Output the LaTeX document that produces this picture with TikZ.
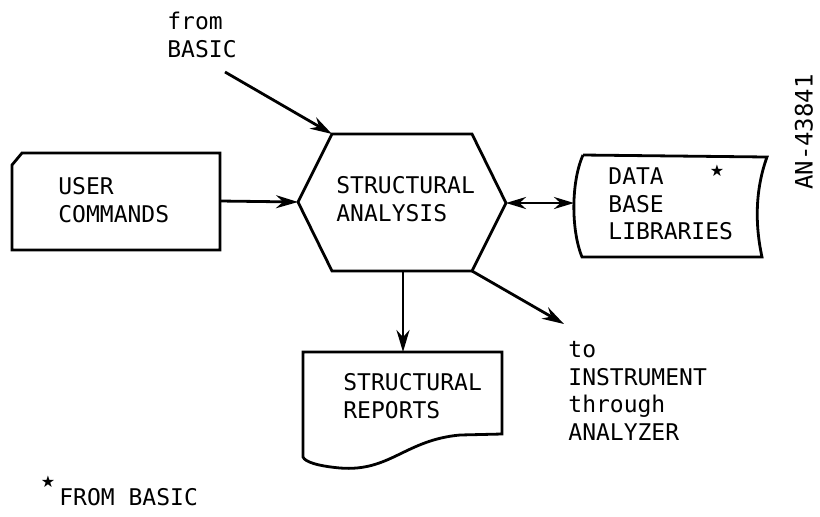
\documentclass[tikz,border=0pt]{standalone}
\usepackage{fontspec}
\newfontfamily\monofont{DejaVu Sans Mono}
\newfontfamily\symfont{DejaVu Sans}
\usetikzlibrary{arrows.meta}

\begin{document}
\begin{tikzpicture}[x=0.5pt,y=-0.5pt,line width=1.4pt,
    lbl/.style={anchor=west,align=left,inner sep=0pt,
      font=\monofont\fontsize{11.5}{13.7}\selectfont},
    flow/.style={-{Stealth[length=11pt,width=6.5pt]}},
    both/.style={{Stealth[length=10pt,width=6pt]}-{Stealth[length=10pt,width=6pt]}}]
  \useasboundingbox (0,0) rectangle (820,516);

  \draw (22,153) --(220,153) --(220,250) --(12,250) --(12,165) --cycle;
  \draw (298,202) --(332,134) --(472,134) --(506,203) --(472,271) --(332,271) --cycle;
  \draw (583,155) --(767,157) .. controls (755,190) and (755,225) .. (762,257)
    --(582,257) .. controls (571,230) and (571,182) .. (583,155);
  \draw (303,352) --(502,352) --(502,434) --(460,435)
    .. controls (405,440) and (390,472) .. (340,468)
    .. controls (318,466) and (305,462) .. (303,457) --cycle;

  \coordinate (ucr) at (220,201);
  \coordinate (hl) at (298,202);
  \coordinate (htl) at (332,134);
  \coordinate (hr) at (506,203);
  \coordinate (hbr) at (472,271);
  \coordinate (hb) at (403,271);
  \coordinate (dbl) at (574,203);
  \coordinate (rt) at (403,352);
  \coordinate (bt) at (225,72);
  \coordinate (it) at (564,324);

  \path (57,200) node[lbl] (ucmd) {USER\\COMMANDS};
  \path (335,199) node[lbl] (sa) {STRUCTURAL\\ANALYSIS};
  \path (607,204) node[lbl] (dbase) {DATA\\BASE\\LIBRARIES};
  \path (717,171) node[inner sep=0pt,font=\symfont\fontsize{8}{8}\selectfont] (dstar) {★};
  \path (342,396) node[lbl] (srep) {STRUCTURAL\\REPORTS};
  \path (166,35) node[lbl] (fbasic) {from\\BASIC};
  \path (567,391) node[lbl] (tinst) {to\\INSTRUMENT\\through\\ANALYZER};
  \path (48,482) node[inner sep=0pt,font=\symfont\fontsize{8}{8}\selectfont] (nstar) {★};
  \path (58,497) node[lbl] (nbasic) {FROM BASIC};
  \path (804,132) node[lbl,anchor=center,rotate=90,font=\monofont\fontsize{12}{14}\selectfont] (anum) {AN-43841};

  \draw[flow] (ucr) --(hl);
  \draw[flow] (bt) --(htl);
  \draw[both] (hr) --(dbl);
  \draw[flow] (hb) --(rt);
  \draw[flow] (hbr) --(it);
\end{tikzpicture}
\end{document}
